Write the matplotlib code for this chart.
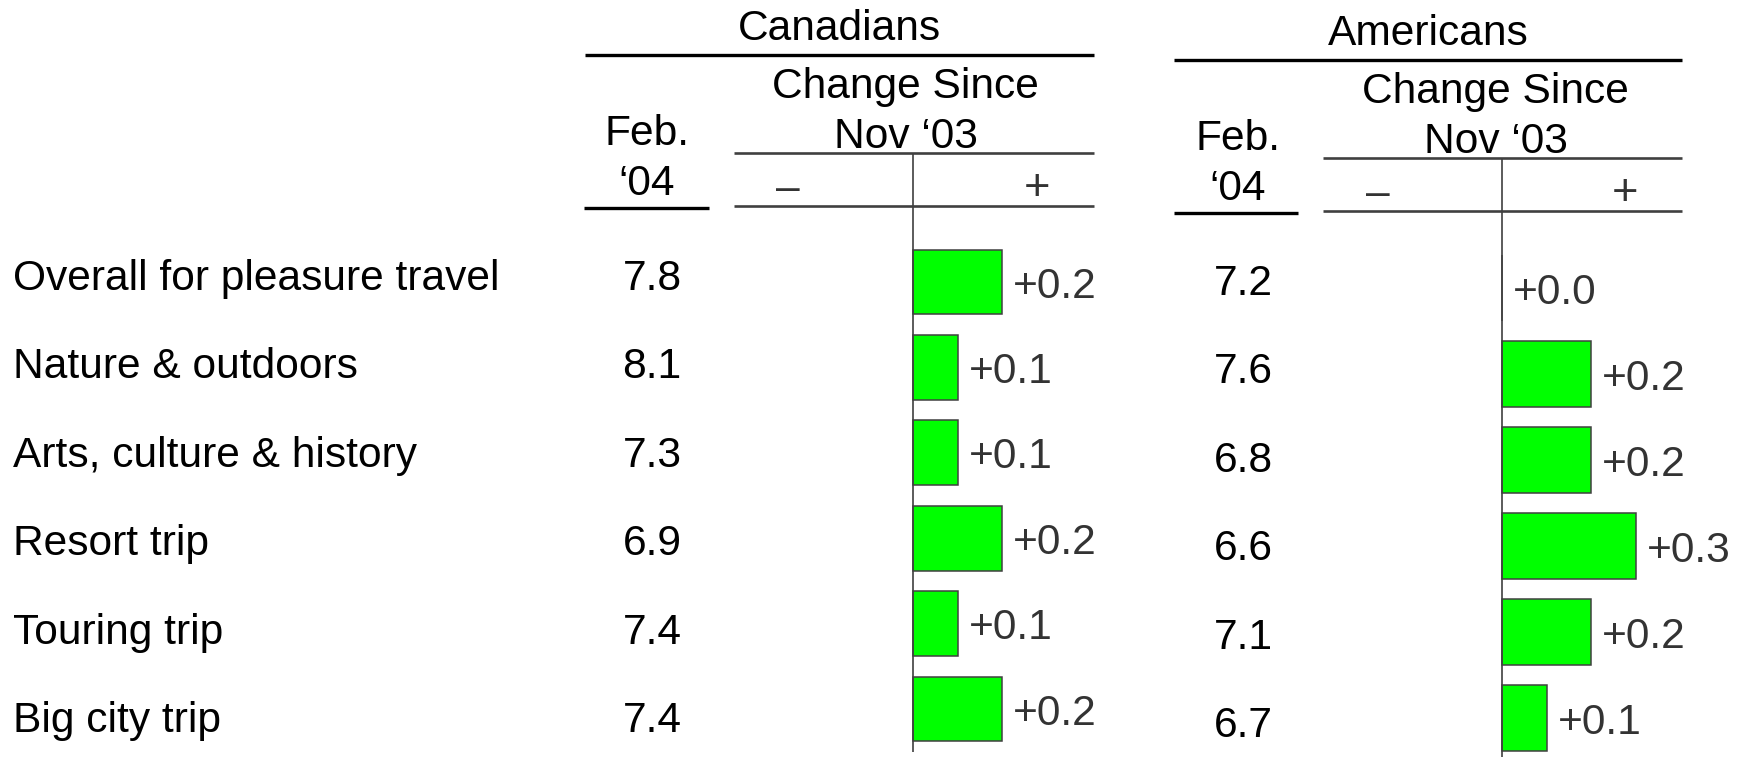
import matplotlib
matplotlib.use("Agg")
import matplotlib.pyplot as plt

plt.rcParams['font.family'] = ['Liberation Sans', 'DejaVu Sans']

# ---------------- data ----------------
categories = ["Overall for pleasure travel", "Nature & outdoors", "Arts, culture & history",
              "Resort trip", "Touring trip", "Big city trip"]
can_feb04 = [7.8, 8.1, 7.3, 6.9, 7.4, 7.4]
can_change = [0.2, 0.1, 0.1, 0.2, 0.1, 0.2]
us_feb04 = [7.2, 7.6, 6.8, 6.6, 7.1, 6.7]
us_change = [0.0, 0.2, 0.2, 0.3, 0.2, 0.1]
group_titles = ["Canadians", "Americans"]

W, H = 1747, 757
DPI = 100
FS = 30.6
BAR_COLOR = "#00ff00"
EDGE = "#404040"
LBL = "#333333"

fig = plt.figure(figsize=(W / DPI, H / DPI), dpi=DPI)
fig.patch.set_facecolor("white")

# overlay axes in pixel coordinates for layout text and header rules
ov = fig.add_axes([0, 0, 1, 1])
ov.set_xlim(0, W)
ov.set_ylim(H, 0)
ov.axis("off")


def px_axes(left, right, top, bottom):
    return fig.add_axes([left / W, 1 - bottom / H, (right - left) / W, (bottom - top) / H])


# layout per group
groups = [
    dict(title=group_titles[0], feb=can_feb04, chg=can_change, dy=0,
         title_x=839, feb_x=647, val_x=652, chg_x=905,
         feb_l=584, feb_r=709, ch_l=734, ch_r=1094, title_l=585, title_r=1094,
         axis_x=913, minus_x=788, plus_x=1037,
         bar_c0=282, bar_step=85.4, bar_bottom=752),
    dict(title=group_titles[1], feb=us_feb04, chg=us_change, dy=5,
         title_x=1428, feb_x=1238, val_x=1243, chg_x=1495,
         feb_l=1174, feb_r=1298, ch_l=1323, ch_r=1682, title_l=1174, title_r=1682,
         axis_x=1502, minus_x=1378, plus_x=1625,
         bar_c0=288, bar_step=86.0, bar_bottom=757),
]

# row labels
for i, cat in enumerate(categories):
    ov.text(13, 290 + 88.4 * i, cat, fontsize=FS, ha="left", va="baseline", color="black")

PX_PER_UNIT = 445.0

for g in groups:
    dy = g["dy"]
    # header texts
    ov.text(g["title_x"], 40 + dy, g["title"], fontsize=FS, ha="center", va="baseline", color="black")
    ov.text(g["chg_x"], 98 + dy, "Change Since", fontsize=FS, ha="center", va="baseline", color="black")
    ov.text(g["chg_x"] + 1, 148 + dy, "Nov \u201803", fontsize=FS, ha="center", va="baseline", color="black")
    ov.text(g["feb_x"], 145 + dy, "Feb.", fontsize=FS, ha="center", va="baseline", color="black")
    ov.text(g["feb_x"], 195 + dy, "\u201804", fontsize=FS, ha="center", va="baseline", color="black")
    ov.text(g["minus_x"], 200 + dy, "\u2013", fontsize=FS, ha="center", va="baseline", color=LBL)
    ov.text(g["plus_x"], 200 + dy, "+", fontsize=FS + 2, ha="center", va="baseline", color=LBL)
    # header rules
    ov.plot([g["title_l"], g["title_r"]], [55 + dy, 55 + dy], color="black", lw=2.4, solid_capstyle="butt")
    ov.plot([g["feb_l"], g["feb_r"]], [208 + dy, 208 + dy], color="black", lw=2.4, solid_capstyle="butt")
    ov.plot([g["ch_l"], g["ch_r"]], [153 + dy, 153 + dy], color=EDGE, lw=1.9, solid_capstyle="butt")
    ov.plot([g["ch_l"], g["ch_r"]], [206 + dy, 206 + dy], color=EDGE, lw=1.9, solid_capstyle="butt")

    # Feb '04 values
    for i, v in enumerate(g["feb"]):
        ov.text(g["val_x"], 290 + dy + 88.4 * i, f"{v:.1f}", fontsize=FS, ha="center",
                va="baseline", color="black")

    # bar axes
    top, bottom = 153 + dy, g["bar_bottom"]
    ax = px_axes(g["ch_l"], g["ch_r"], top, bottom)
    ax.axis("off")
    ax.set_xlim((g["ch_l"] - g["axis_x"]) / PX_PER_UNIT, (g["ch_r"] - g["axis_x"]) / PX_PER_UNIT)
    ax.set_ylim((bottom - g["bar_c0"]) / g["bar_step"], (top - g["bar_c0"]) / g["bar_step"])
    rows = list(range(len(categories)))
    vals = g["chg"]
    ax.barh(rows, vals, height=0.76, color=BAR_COLOR, edgecolor=EDGE, linewidth=1.1, zorder=2)
    ax.axvline(0, color=EDGE, lw=1.2, zorder=3)
    for i, v in enumerate(vals):
        ax.annotate(f"+{v:.1f}", xy=(v, i), xytext=(8, -11.2), textcoords="offset points",
                    fontsize=FS, ha="left", va="baseline", color=LBL)

fig.savefig("out.png", dpi=DPI, facecolor="white")
